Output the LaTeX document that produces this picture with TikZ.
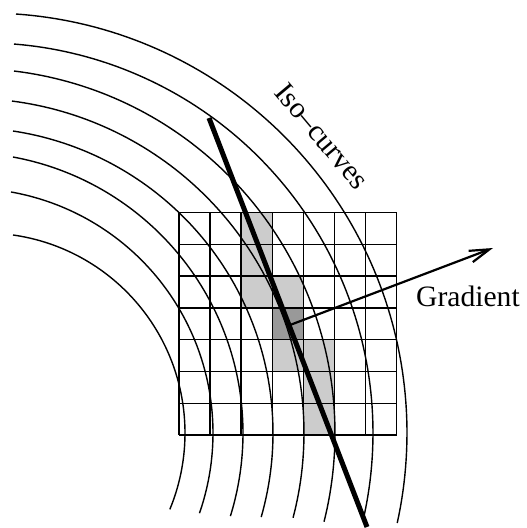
\documentclass[tikz,border=0pt]{standalone}
\usepackage{fontspec}
\setmainfont{Liberation Serif}
\usetikzlibrary{arrows.meta}
\definecolor{cellLight}{RGB}{204,204,204}
\definecolor{cellDark}{RGB}{153,153,153}
\begin{document}
\begin{tikzpicture}[x=1pt,y=-1pt,
  gridline/.style={line width=1.5pt},
  isocurve/.style={line width=1.4pt},
  lsline/.style={line width=5pt},
  gradarrow/.style={line width=2.2pt,-{Straight Barb[length=20pt,width=12pt,line width=2.2pt]}},
  lbl/.style={inner sep=0pt,font=\fontsize{29.6}{35}\selectfont}]
\useasboundingbox (0,0) rectangle (527,528);
% shaded cells
\fill[cellLight] (241.7,212.7) rectangle (272.7,307.3);
\fill[cellLight] (272.7,276) rectangle (303.3,307.3);
\fill[cellDark] (272.7,307.3) rectangle (303.3,339.3);
\fill[cellLight] (272.7,339.3) rectangle (303.3,371.7);
\fill[cellLight] (303.3,339.3) rectangle (334.3,435);
% grid
\foreach \i in {0,...,7}
  \draw[gridline] ({179+31.1*\i},212.7) -- ({179+31.1*\i},435);
\foreach \j in {0,...,7}
  \draw[gridline] (179,{212.7+31.76*\j}) -- (396.7,{212.7+31.76*\j});
% iso-curves
\foreach \cx/\r/\a/\b in {-13/420/-86.04/12.38, -17.25/390.25/-85.41/12.6,
  -29.6/364.6/-83.13/14.09, -30.7/334.7/-82.67/14.67, -32.4/305.4/-81.45/15.98,
  -37.6/280.6/-79.61/17.23, -31.8/244.8/-79.93/19.12, -15/200/-81.95/22.44}
  \draw[isocurve] plot[domain=\a:\b, samples=90, variable=\t]
    ({\cx+\r*cos(\t)},{433+\r*sin(\t)});
% line
\coordinate (ltop) at (209,118);
\coordinate (lbot) at (367,527);
\draw[lsline] (ltop) -- (lbot);
% gradient
\coordinate (gstart) at (290,325);
\coordinate (gend) at (493,248);
\draw[gradarrow] (gstart) -- (gend);
\node[lbl,anchor=base west] (grad) at (416,306) {Gradient};
\node[lbl,rotate=-50] (iso) at (322,136) {Iso–curves};
\end{tikzpicture}
\end{document}
